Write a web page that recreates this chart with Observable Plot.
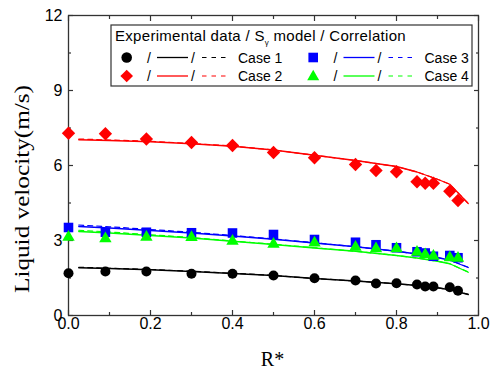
<!DOCTYPE html>
<html><head><meta charset="utf-8">
<script src="https://cdn.jsdelivr.net/npm/d3@7"></script>
<script src="https://cdn.jsdelivr.net/npm/@observablehq/plot@0.6"></script>
<style>body{margin:0;background:#fff} svg{display:block}</style>
</head><body><div id="chart"></div>
<script>
// Experimental data (R*, liquid velocity m/s)
const rStar = [0, 0.09, 0.19, 0.3, 0.4, 0.5, 0.6, 0.7, 0.75, 0.8, 0.85, 0.87, 0.89, 0.93, 0.95];
const expCase1 = [1.69, 1.76, 1.76, 1.67, 1.67, 1.60, 1.49, 1.40, 1.28, 1.29, 1.24, 1.16, 1.16, 1.13, 0.99];
const expCase2 = [7.29, 7.27, 7.06, 6.92, 6.80, 6.52, 6.31, 6.04, 5.80, 5.75, 5.35, 5.29, 5.29, 4.97, 4.60];
const expCase3 = [3.52, 3.33, 3.33, 3.31, 3.30, 3.24, 3.04, 2.93, 2.83, 2.71, 2.55, 2.50, 2.37, 2.40, 2.31];
const expCase4 = [3.13, 3.07, 3.13, 3.12, 2.97, 2.85, 2.90, 2.73, 2.67, 2.67, 2.53, 2.43, 2.37, 2.31, 2.29];

// S_gamma model (solid) and correlation (dashed)
const modelR = [0.025, 0.1, 0.2, 0.3, 0.4, 0.5, 0.6, 0.7, 0.8, 0.85, 0.9, 0.93, 0.975];
const modelCase1 = [1.91, 1.88, 1.83, 1.76, 1.68, 1.60, 1.48, 1.38, 1.27, 1.20, 1.11, 1.03, 0.84];
const corrCase1  = [1.93, 1.89, 1.84, 1.77, 1.69, 1.60, 1.48, 1.38, 1.27, 1.20, 1.11, 1.03, 0.85];
const modelCase2 = [7.03, 7.00, 6.95, 6.87, 6.77, 6.62, 6.41, 6.20, 5.96, 5.74, 5.45, 5.25, 4.48];
const corrCase2  = [7.06, 7.02, 6.97, 6.88, 6.78, 6.62, 6.41, 6.20, 5.96, 5.74, 5.45, 5.25, 4.48];
const modelCase3 = [3.56, 3.50, 3.40, 3.30, 3.18, 3.05, 2.90, 2.75, 2.57, 2.46, 2.32, 2.21, 1.92];
const corrCase3  = [3.62, 3.55, 3.44, 3.33, 3.20, 3.06, 2.91, 2.75, 2.57, 2.46, 2.32, 2.21, 1.93];
const modelCase4 = [3.36, 3.30, 3.20, 3.10, 2.97, 2.84, 2.70, 2.57, 2.40, 2.30, 2.17, 2.07, 1.73];
const corrCase4  = [3.41, 3.34, 3.23, 3.12, 2.98, 2.85, 2.71, 2.57, 2.40, 2.30, 2.17, 2.07, 1.74];

const caseNames = ["Case 1", "Case 2", "Case 3", "Case 4"];
const caseColors = ["#000000", "#ff0000", "#0000ff", "#00ff00"];
const caseSymbols = ["circle", "diamond2", "square", "triangle"];
const caseR = [5, 6, 5.4, 4.6];

const xMajor = [0, 0.2, 0.4, 0.6, 0.8, 1.0];
const xMinor = [0.1, 0.3, 0.5, 0.7, 0.9];
const yMajor = [0, 3, 6, 9, 12];
const yMinor = [1.5, 4.5, 7.5, 10.5];

const expAll = [expCase1, expCase2, expCase3, expCase4];
const modelAll = [modelCase1, modelCase2, modelCase3, modelCase4];
const corrAll = [corrCase1, corrCase2, corrCase3, corrCase4];

const tickColor = "#333";
const marks = [];
marks.push(Plot.axisX(xMajor, {tickSize: 0, tickPadding: 2, tickFormat: d3.format(".1f"), label: null, fontSize: 16}));
marks.push(Plot.axisY(yMajor, {tickSize: 0, tickPadding: 6, tickFormat: d3.format("d"), label: null, fontSize: 16}));
for (const anchor of ["bottom", "top"]) {
  marks.push(Plot.axisX(xMajor, {anchor, tickSize: -5, tickFormat: () => "", label: null, stroke: tickColor, strokeWidth: 1.2}));
  marks.push(Plot.axisX(xMinor, {anchor, tickSize: -3, tickFormat: () => "", label: null, stroke: tickColor, strokeWidth: 1.2}));
}
for (const anchor of ["left", "right"]) {
  marks.push(Plot.axisY(yMajor, {anchor, tickSize: -5, tickFormat: () => "", label: null, stroke: tickColor, strokeWidth: 1.2}));
  marks.push(Plot.axisY(yMinor, {anchor, tickSize: -3, tickFormat: () => "", label: null, stroke: tickColor, strokeWidth: 1.2}));
}
marks.push(Plot.frame({stroke: tickColor, strokeWidth: 1.3}));

caseNames.forEach((name, k) => {
  const model = modelR.map((x, i) => ({x, y: modelAll[k][i]}));
  const corr = modelR.map((x, i) => ({x, y: corrAll[k][i]}));
  marks.push(Plot.line(corr, {x: "x", y: "y", stroke: caseColors[k], strokeWidth: 1.2, strokeDasharray: "5,4"}));
  marks.push(Plot.line(model, {x: "x", y: "y", stroke: caseColors[k], strokeWidth: 1.3}));
});
caseNames.forEach((name, k) => {
  const pts = rStar.map((x, i) => ({x, y: expAll[k][i]}));
  marks.push(Plot.dot(pts, {x: "x", y: "y", symbol: () => caseSymbols[k], r: caseR[k], fill: caseColors[k], stroke: "none"}));
});

const chart = Plot.plot({
  width: 496, height: 371,
  marginLeft: 68, marginRight: 18, marginTop: 15, marginBottom: 56,
  x: {domain: [0, 1], label: null},
  y: {domain: [0, 12], label: null},
  symbol: {type: "identity"},
  style: {fontFamily: "'Liberation Sans', Arial, sans-serif", fontSize: "16px", color: "#000", background: "#fff", overflow: "visible"},
  marks
});
document.getElementById("chart").appendChild(chart);

const svg = d3.select(chart);
const serif = "'Liberation Serif', 'Times New Roman', serif";
svg.append("text").attr("transform", "translate(28.5,189) rotate(-90)")
  .attr("text-anchor", "middle").attr("font-family", serif)
  .attr("font-size", 20).attr("textLength", 208).attr("lengthAdjust", "spacingAndGlyphs")
  .attr("fill", "#000").text("Liquid velocity(m/s)");
svg.append("text").attr("x", 272.5).attr("y", 366)
  .attr("text-anchor", "middle").attr("font-family", serif)
  .attr("font-size", 20).attr("fill", "#000").text("R*");

// legend
const lg = svg.append("g").attr("font-family", "'Liberation Sans', Arial, sans-serif").attr("font-size", 14).attr("text-anchor", "start");
lg.append("rect").attr("x", 111).attr("y", 25).attr("width", 361).attr("height", 61)
  .style("fill", "#ffffff").style("stroke", "#333333").style("stroke-width", "1.2px");
const title = lg.append("text").attr("x", 115).attr("y", 41).attr("fill", "#000").attr("text-anchor", "start")
  .attr("font-size", 15).style("letter-spacing", "0.3px");
title.append("tspan").text("Experimental data / S");
title.append("tspan").attr("font-size", 8).attr("dy", 4).text("γ");
title.append("tspan").attr("dy", -4).text(" model / Correlation");

const legendPaths = {
  circle: d3.symbol(d3.symbolCircle, Math.PI * 5.3 * 5.3)(),
  square: "M-4.8,-4.8H4.8V4.8H-4.8Z",
  diamond2: "M0,-6.3L6.3,0L0,6.3L-6.3,0Z",
  triangle: "M0,-6.2L6,4.2L-6,4.2Z"
};
const order = [[0, 0, 0], [1, 0, 1], [2, 1, 0], [3, 1, 1]]; // case, col, row
for (const [k, col, row] of order) {
  const dx = col * 186.5;
  const cy = row === 0 ? 57.5 : 76;
  const gg = lg.append("g");
  gg.append("path").attr("d", legendPaths[caseSymbols[k]]).attr("transform", `translate(${126.7 + dx},${cy})`).style("fill", caseColors[k]);
  gg.append("text").attr("x", 149 + dx).attr("y", cy + 5).attr("text-anchor", "middle").attr("fill", "#000").text("/");
  gg.append("line").attr("x1", 157 + dx).attr("x2", 188 + dx).attr("y1", cy).attr("y2", cy).style("stroke", caseColors[k]).style("stroke-width", "1.3px");
  gg.append("text").attr("x", 193 + dx).attr("y", cy + 5).attr("text-anchor", "middle").attr("fill", "#000").text("/");
  gg.append("line").attr("x1", 202 + dx).attr("x2", 228 + dx).attr("y1", cy).attr("y2", cy).style("stroke", caseColors[k]).style("stroke-width", "1.2px").style("stroke-dasharray", "4.5,5");
  gg.append("text").attr("x", 238 + dx).attr("y", cy + 5).attr("text-anchor", "start").attr("fill", "#000").text(caseNames[k]);
}
</script></body></html>
